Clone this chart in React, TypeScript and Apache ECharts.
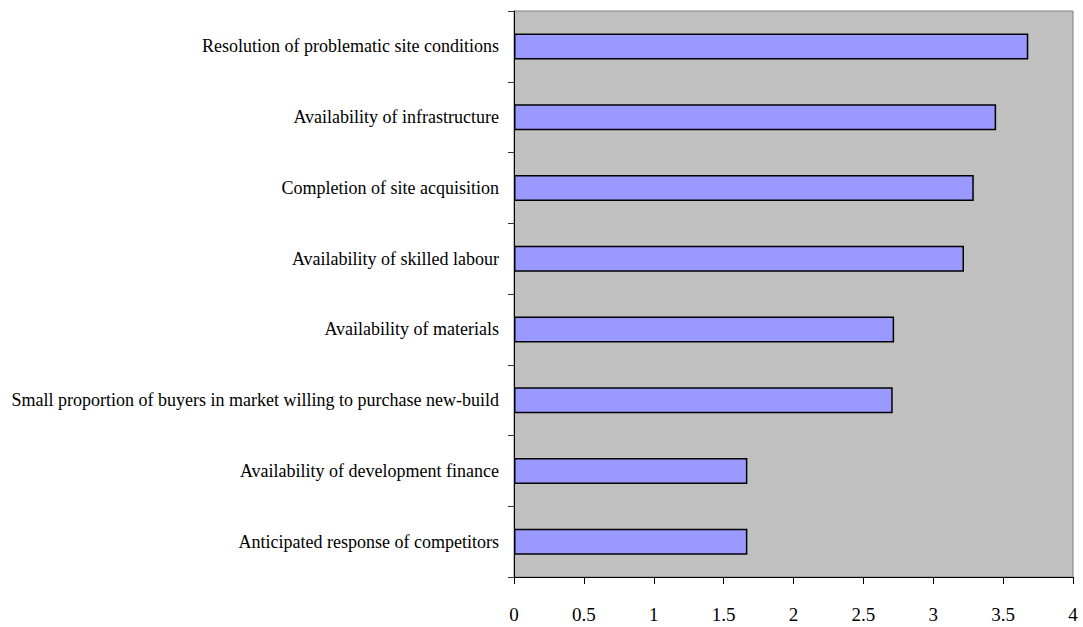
import React, { useEffect, useRef } from "react";
import * as echarts from "echarts";

const categories = [
  "Resolution of problematic site conditions",
  "Availability of infrastructure",
  "Completion of site acquisition",
  "Availability of skilled labour",
  "Availability of materials",
  "Small proportion of buyers in market willing to purchase new-build",
  "Availability of development finance",
  "Anticipated response of competitors",
];
const values = [3.68, 3.45, 3.29, 3.22, 2.72, 2.71, 1.67, 1.67];
const xMin = 0;
const xMax = 4;
const xInterval = 0.5;

export default function App() {
  const ref = useRef<HTMLDivElement>(null);
  useEffect(() => {
    if (!ref.current) return;
    const chart = echarts.init(ref.current, undefined, { renderer: "svg" });
    const font = "'Liberation Serif', 'Times New Roman', serif";
    chart.setOption({
      animation: false,
      backgroundColor: "#ffffff",
      grid: {
        left: 514,
        right: 10,
        top: 11,
        bottom: 50,
        show: true,
        backgroundColor: "#C0C0C0",
        borderColor: "#808080",
        borderWidth: 1,
      },
      xAxis: {
        type: "value",
        min: xMin,
        max: xMax,
        interval: xInterval,
        splitLine: { show: false },
        axisLine: { show: true, lineStyle: { color: "#000000", width: 1 } },
        axisTick: { show: true, length: 7, lineStyle: { color: "#000000" } },
        axisLabel: {
          margin: 28,
          color: "#000000",
          fontFamily: font,
          fontSize: 19,
        },
      },
      yAxis: {
        type: "category",
        data: categories,
        inverse: true,
        axisLine: { show: true, lineStyle: { color: "#000000", width: 1 } },
        axisTick: { show: true, length: 6, lineStyle: { color: "#333333" } },
        axisLabel: {
          margin: 15,
          color: "#000000",
          fontFamily: font,
          fontSize: 18,
        },
      },
      series: [
        {
          type: "bar",
          data: values,
          barWidth: 26,
          itemStyle: {
            color: "#9999FF",
            borderColor: "#000000",
            borderWidth: 1.5,
          },
        },
      ],
    });
    return () => chart.dispose();
  }, []);
  return <div ref={ref} style={{ width: 1083, height: 627, position: "absolute", left: 0, top: 0 }} />;
}
